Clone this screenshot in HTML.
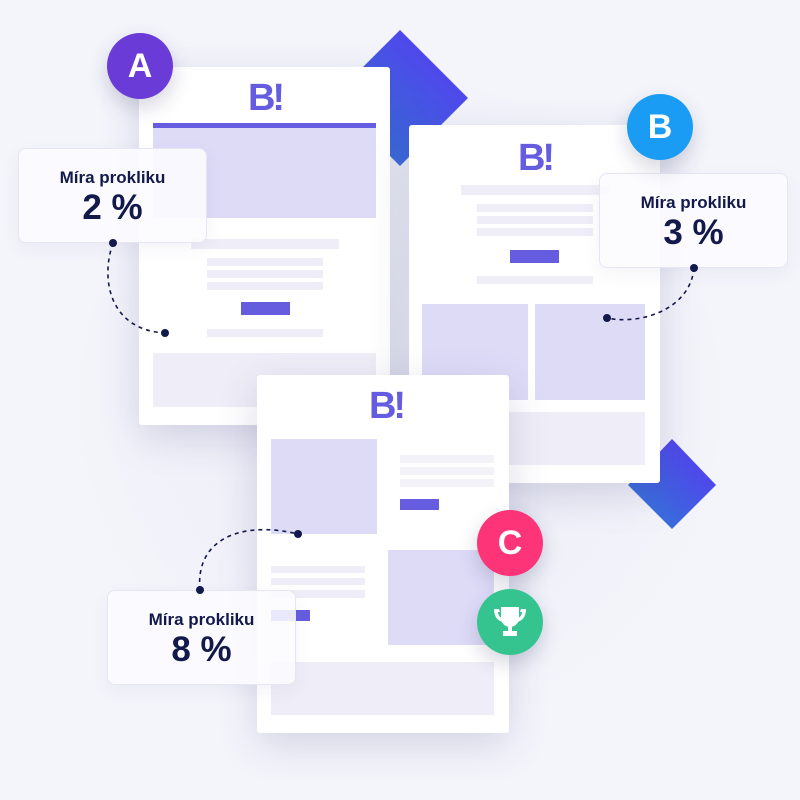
<!DOCTYPE html>
<html><head><meta charset="utf-8"><style>
*{margin:0;padding:0;box-sizing:border-box}
body{width:800px;height:800px;background:#f4f5fb;position:relative;overflow:hidden;font-family:"Liberation Sans",sans-serif}
.a{position:absolute}
.card{position:absolute;background:#fff;border-radius:3px;box-shadow:0 12px 40px rgba(60,60,120,.18)}
.l{position:absolute;background:#efedf7}
.p{position:absolute;background:#dedbf7}
.btn{position:absolute;background:#665ce0}
.logo{position:absolute;font-weight:bold;font-size:38px;color:#665ce0;letter-spacing:-3px;width:80px;text-align:center;line-height:38px}
.circ{position:absolute;width:66px;height:66px;border-radius:50%;color:#fff;font-weight:bold;font-size:34px;text-align:center;line-height:66px;box-shadow:0 8px 20px rgba(40,40,90,.2)}
.lab{position:absolute;width:189px;height:95px;background:rgba(252,252,255,.88);border:1px solid #e6e6f3;border-radius:8px;text-align:center;color:#13194a;box-shadow:0 6px 18px rgba(60,60,120,.06)}
.lab .t{font-weight:bold;font-size:17px;margin-top:19px}
.lab .v{font-weight:bold;font-size:35px;margin-top:0px;line-height:40px}
</style></head><body>
<div class="a" style="left:0;top:0;width:800px;height:800px;background:radial-gradient(circle at 400px 400px,#e9eaf5 0,#f4f5fb 60%)"></div>
<svg class="a" style="left:0;top:0" width="800" height="800">
<defs><linearGradient id="g" x1="0" y1="1" x2="1" y2="0"><stop offset="0" stop-color="#2f7fd6"/><stop offset="1" stop-color="#5a35f2"/></linearGradient></defs>
<polygon points="400,30 468,98 400,166 332,98" fill="url(#g)"/>
<polygon points="672,439 716,485 672,529 628,485" fill="url(#g)"/>
</svg>
<div class="card" style="left:139px;top:67px;width:251px;height:358px">
<div class="logo" style="left:86px;top:12px">B!</div>
<div class="btn" style="left:14px;top:56px;width:223px;height:5px"></div>
<div class="p" style="left:14px;top:61px;width:223px;height:90px"></div>
<div class="l" style="left:52px;top:172px;width:148px;height:10px"></div>
<div class="l" style="left:68px;top:191px;width:116px;height:8px"></div>
<div class="l" style="left:68px;top:203px;width:116px;height:8px"></div>
<div class="l" style="left:68px;top:215px;width:116px;height:8px"></div>
<div class="btn" style="left:102px;top:235px;width:49px;height:13px"></div>
<div class="l" style="left:68px;top:262px;width:116px;height:8px"></div>
<div class="l" style="left:14px;top:286px;width:223px;height:54px"></div>
</div>
<div class="card" style="left:409px;top:125px;width:251px;height:358px">
<div class="logo" style="left:86px;top:14px">B!</div>
<div class="l" style="left:52px;top:60px;width:148px;height:10px"></div>
<div class="l" style="left:68px;top:79px;width:116px;height:8px"></div>
<div class="l" style="left:68px;top:91px;width:116px;height:8px"></div>
<div class="l" style="left:68px;top:103px;width:116px;height:8px"></div>
<div class="btn" style="left:101px;top:125px;width:49px;height:13px"></div>
<div class="l" style="left:68px;top:151px;width:116px;height:8px"></div>
<div class="p" style="left:13px;top:179px;width:106px;height:96px"></div>
<div class="p" style="left:126px;top:179px;width:110px;height:96px"></div>
<div class="l" style="left:13px;top:287px;width:223px;height:53px"></div>
</div>
<div class="card" style="left:257px;top:375px;width:252px;height:358px">
<div class="logo" style="left:89px;top:12px">B!</div>
<div class="p" style="left:14px;top:64px;width:106px;height:95px"></div>
<div class="l" style="left:143px;top:80px;width:94px;height:8px;background:#f3f2f8"></div>
<div class="l" style="left:143px;top:92px;width:94px;height:8px;background:#f3f2f8"></div>
<div class="l" style="left:143px;top:104px;width:94px;height:8px;background:#f3f2f8"></div>
<div class="btn" style="left:143px;top:124px;width:39px;height:11px"></div>
<div class="l" style="left:14px;top:191px;width:94px;height:7px"></div>
<div class="l" style="left:14px;top:203px;width:94px;height:7px"></div>
<div class="l" style="left:14px;top:215px;width:94px;height:8px"></div>
<div class="btn" style="left:14px;top:235px;width:39px;height:11px"></div>
<div class="p" style="left:131px;top:175px;width:106px;height:95px"></div>
<div class="l" style="left:14px;top:287px;width:223px;height:53px"></div>
</div>
<div class="lab" style="left:18px;top:148px"><div class="t">Míra prokliku</div><div class="v">2 %</div></div>
<div class="lab" style="left:599px;top:173px"><div class="t">Míra prokliku</div><div class="v">3 %</div></div>
<div class="lab" style="left:107px;top:590px"><div class="t">Míra prokliku</div><div class="v">8 %</div></div>
<svg class="a" style="left:0;top:0" width="800" height="800" fill="none" stroke="#13194a" stroke-width="1.6" stroke-dasharray="4 4">
<path d="M113 243 C100 280 110 330 165 333"/>
<path d="M694 268 C690 310 640 325 607 318"/>
<path d="M200 590 C195 540 240 520 298 534"/>
<g fill="#13194a" stroke="none"><circle cx="113" cy="243" r="4"/><circle cx="165" cy="333" r="4"/><circle cx="694" cy="268" r="4"/><circle cx="607" cy="318" r="4"/><circle cx="200" cy="590" r="4"/><circle cx="298" cy="534" r="4"/></g>
</svg>
<div class="circ" style="left:107px;top:33px;background:#6b3bd8">A</div>
<div class="circ" style="left:627px;top:94px;background:#1b9cf4">B</div>
<div class="circ" style="left:477px;top:510px;background:#fd3477">C</div>
<div class="circ" style="left:477px;top:589px;background:#35c48f">
<svg width="66" height="66" viewBox="0 0 66 66" style="position:absolute;left:0;top:0"><g fill="#fff"><path d="M24 18h18v11a9 9 0 0 1-18 0z"/><path d="M22 20h-5c0 8 4 12 9 13l-1-4c-3-1-4-4-4-6h2z"/><path d="M44 20h5c0 8-4 12-9 13l1-4c3-1 4-4 4-6h-2z"/><rect x="31" y="36" width="4" height="7"/><rect x="26" y="42" width="14" height="5"/></g></svg>
</div>
</body></html>
